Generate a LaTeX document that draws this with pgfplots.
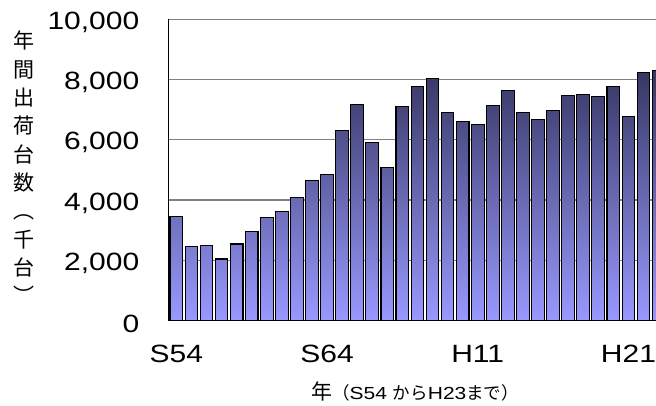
\documentclass[border=0pt]{standalone}
\usepackage{pgfplots}
\pgfplotsset{compat=1.18}
\usepackage{fontspec}
\setmainfont{Liberation Sans}[FakeStretch=1.2]
\newfontfamily\jp{Noto Sans CJK JP}
\definecolor{bartop}{RGB}{55,55,100}
\definecolor{barbot}{RGB}{153,153,255}
\definecolor{gridc}{RGB}{128,128,128}

\begin{document}
\begin{tikzpicture}
\begin{axis}[
    at={(168.8pt,84.5pt)}, anchor=south west,
    scale only axis, width=487.2pt, height=301.2pt,
    xmin=-0.5, xmax=31.83, ymin=0, ymax=10000,
    axis x line=bottom, axis y line=left,
    axis line style={-, black, line width=1.2pt},
    ytick={0,2000,...,10000},
    xtick={0,10,20,30},
    xticklabels={S54,S64,H11,H21},
    major tick length=0pt,
    ymajorgrids,
    grid style={gridc, line width=1.2pt},
    /pgf/number format/assume math mode=true,
    /pgf/number format/1000 sep={,},
    scaled y ticks=false,
    tick label style={font=\fontsize{25}{25}\selectfont},
    yticklabel style={xshift=-26pt, yshift=-3pt},
    xticklabel style={yshift=-21pt},
    ybar, bar width=12.7pt,
    clip=true,
]
% annual shipments, S54 (1979) to H23 (2011), thousand units
\addplot[draw=black, line width=1.1pt, top color=bartop, bottom color=barbot]
coordinates {
(0,3462) (1,2442) (2,2485) (3,2043) (4,2541) (5,2963) (6,3405) (7,3615)
(8,4069) (9,4634) (10,4844) (11,6295) (12,7159) (13,5897) (14,5089) (15,7115)
(16,7780) (17,8033) (18,6903) (19,6604) (20,6505) (21,7126) (22,7634) (23,6903)
(24,6661) (25,6960) (26,7468) (27,7514) (28,7425) (29,7780) (30,6760) (31,8232)
(32,8288)
};
\end{axis}
\node[align=center, inner sep=0pt, anchor=north,
      font=\jp\fontsize{21}{28.3}\selectfont] at (24pt,374pt)
      {年\\間\\出\\荷\\台\\数\\︵\\千\\台\\︶};
\node[anchor=base west, inner sep=0pt] at (311pt,6pt)
      {{\jp\fontsize{21}{21}\selectfont 年}{\fontsize{17.5}{17.5}\selectfont{\jp （}S54 {\jp から}H23{\jp まで）}}};
\pgfresetboundingbox
\useasboundingbox (0,0) rectangle (656pt,405pt);
\end{tikzpicture}
\end{document}
